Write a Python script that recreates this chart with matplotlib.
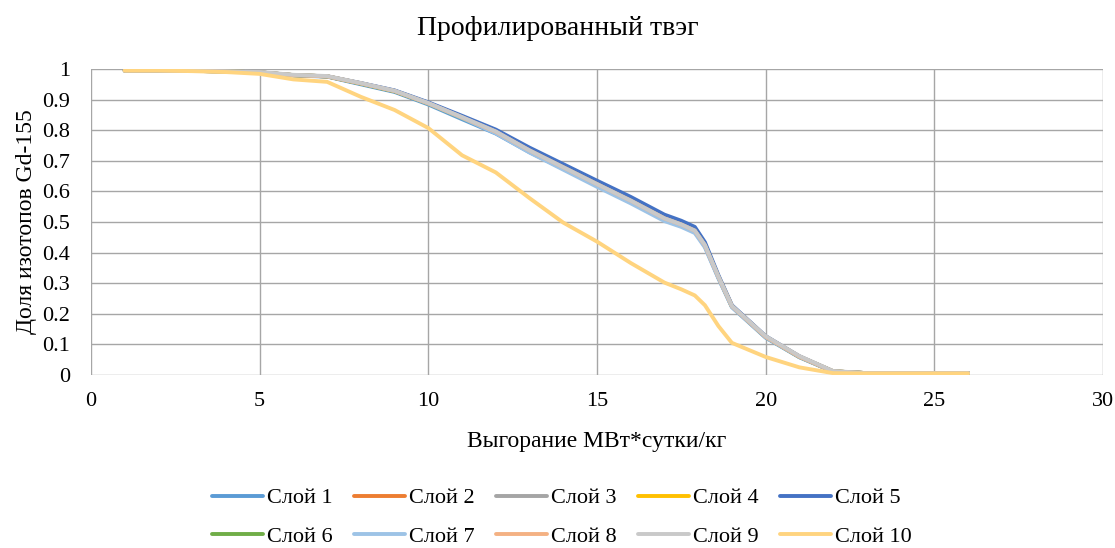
import numpy as np
import matplotlib.pyplot as plt
from matplotlib.ticker import FuncFormatter, MultipleLocator

plt.rcParams['font.family'] = ['Liberation Serif', 'DejaVu Serif']

# Burnup, MW*day/kg
burnup = [1, 2, 3, 4, 5, 6, 7, 8, 9, 10, 11, 12, 13, 14, 15, 16, 17, 17.5,
          17.9, 18.2, 18.6, 19, 20, 21, 22, 23, 24, 25, 26]

# Gd-155 fraction per layer
layer1 = [0.995, 0.995, 0.994, 0.992, 0.988, 0.979, 0.975, 0.950, 0.925, 0.884, 0.836, 0.789, 0.728, 0.674,
          0.619, 0.566, 0.508, 0.488, 0.468, 0.420, 0.317, 0.222, 0.122, 0.058, 0.011, 0.006, 0.006, 0.006, 0.006]
layer2 = [0.995, 0.995, 0.994, 0.992, 0.989, 0.980, 0.976, 0.953, 0.928, 0.888, 0.842, 0.795, 0.733, 0.679,
          0.624, 0.570, 0.512, 0.492, 0.472, 0.424, 0.320, 0.225, 0.125, 0.060, 0.012, 0.006, 0.006, 0.006, 0.006]
layer3 = [0.995, 0.995, 0.994, 0.992, 0.989, 0.980, 0.976, 0.953, 0.929, 0.889, 0.843, 0.796, 0.735, 0.680,
          0.625, 0.571, 0.513, 0.493, 0.473, 0.425, 0.322, 0.226, 0.126, 0.061, 0.012, 0.006, 0.006, 0.006, 0.006]
layer4 = [0.995, 0.995, 0.994, 0.992, 0.989, 0.980, 0.976, 0.953, 0.928, 0.888, 0.842, 0.795, 0.734, 0.680,
          0.625, 0.571, 0.513, 0.493, 0.473, 0.425, 0.321, 0.225, 0.125, 0.060, 0.012, 0.006, 0.006, 0.006, 0.006]
layer5 = [0.995, 0.995, 0.994, 0.992, 0.989, 0.980, 0.976, 0.954, 0.930, 0.891, 0.847, 0.802, 0.743, 0.689,
          0.635, 0.582, 0.524, 0.504, 0.484, 0.434, 0.326, 0.228, 0.127, 0.061, 0.012, 0.006, 0.006, 0.006, 0.006]
layer6 = [0.995, 0.995, 0.994, 0.992, 0.989, 0.980, 0.976, 0.952, 0.927, 0.887, 0.840, 0.793, 0.732, 0.678,
          0.623, 0.569, 0.511, 0.491, 0.471, 0.423, 0.320, 0.224, 0.124, 0.059, 0.012, 0.006, 0.006, 0.006, 0.006]
layer7 = [0.995, 0.995, 0.994, 0.992, 0.989, 0.980, 0.976, 0.953, 0.928, 0.887, 0.840, 0.790, 0.727, 0.671,
          0.615, 0.561, 0.503, 0.484, 0.464, 0.417, 0.316, 0.222, 0.123, 0.059, 0.011, 0.006, 0.006, 0.006, 0.006]
layer8 = [0.995, 0.995, 0.994, 0.992, 0.989, 0.980, 0.976, 0.953, 0.928, 0.888, 0.842, 0.795, 0.734, 0.679,
          0.624, 0.570, 0.512, 0.492, 0.472, 0.424, 0.321, 0.225, 0.125, 0.060, 0.012, 0.006, 0.006, 0.006, 0.006]
layer9 = [0.995, 0.995, 0.994, 0.992, 0.990, 0.981, 0.977, 0.954, 0.929, 0.889, 0.843, 0.796, 0.734, 0.679,
          0.624, 0.570, 0.512, 0.492, 0.472, 0.425, 0.322, 0.226, 0.127, 0.062, 0.013, 0.006, 0.006, 0.006, 0.006]
layer10 = [0.995, 0.995, 0.993, 0.990, 0.984, 0.966, 0.958, 0.909, 0.866, 0.807, 0.718, 0.662, 0.578, 0.498,
           0.436, 0.366, 0.302, 0.280, 0.260, 0.228, 0.160, 0.105, 0.059, 0.025, 0.006, 0.005, 0.005, 0.005, 0.005]

layers = [layer1, layer2, layer3, layer4, layer5, layer6, layer7, layer8, layer9, layer10]
labels = ['Слой %d' % i for i in range(1, 11)]
colors = ['#5B9BD5', '#ED7D31', '#A5A5A5', '#FFC000', '#4472C4',
          '#70AD47', '#9DC3E6', '#F4B183', '#C9C9C9', '#FFD47F']

fig = plt.figure(figsize=(11.15, 5.48), dpi=100)
ax = fig.add_axes([0.0816, 0.3157, 0.9076, 0.5584])

lines = []
for vals, lab, col in zip(layers, labels, colors):
    ln, = ax.plot(burnup, vals, color=col, lw=2.8, label=lab,
                  solid_joinstyle='round', solid_capstyle='round')
    lines.append(ln)

ax.set_xlim(0, 30)
ax.set_ylim(0, 1)
ax.xaxis.set_major_locator(MultipleLocator(5))
ax.yaxis.set_major_locator(MultipleLocator(0.1))
ax.yaxis.set_major_formatter(FuncFormatter(lambda v, p: '%g' % round(v, 1)))
ax.grid(True, color='#A6A6A6', lw=1.0)
ax.set_axisbelow(True)
for s in ax.spines.values():
    s.set_visible(False)
ax.tick_params(length=0, labelsize=16)
ax.tick_params(axis='y', pad=15)
ax.tick_params(axis='x', pad=12)

ax.set_xlabel('Выгорание МВт*сутки/кг', fontsize=17, labelpad=15)
ax.set_ylabel('Доля изотопов Gd-155', fontsize=17, labelpad=4)
fig.suptitle('Профилированный твэг', fontsize=20, y=0.97)

# legend is filled by columns, so interleave the two rows
order = [0, 5, 1, 6, 2, 7, 3, 8, 4, 9]
fig.legend([lines[i] for i in order], [labels[i] for i in order],
           loc='center', bbox_to_anchor=(0.504, 0.056), ncol=5, frameon=False,
           fontsize=16, handlelength=2.3, handletextpad=0.18, columnspacing=0.95,
           labelspacing=0.8, borderpad=0)

fig.savefig('out.png', dpi=100)
